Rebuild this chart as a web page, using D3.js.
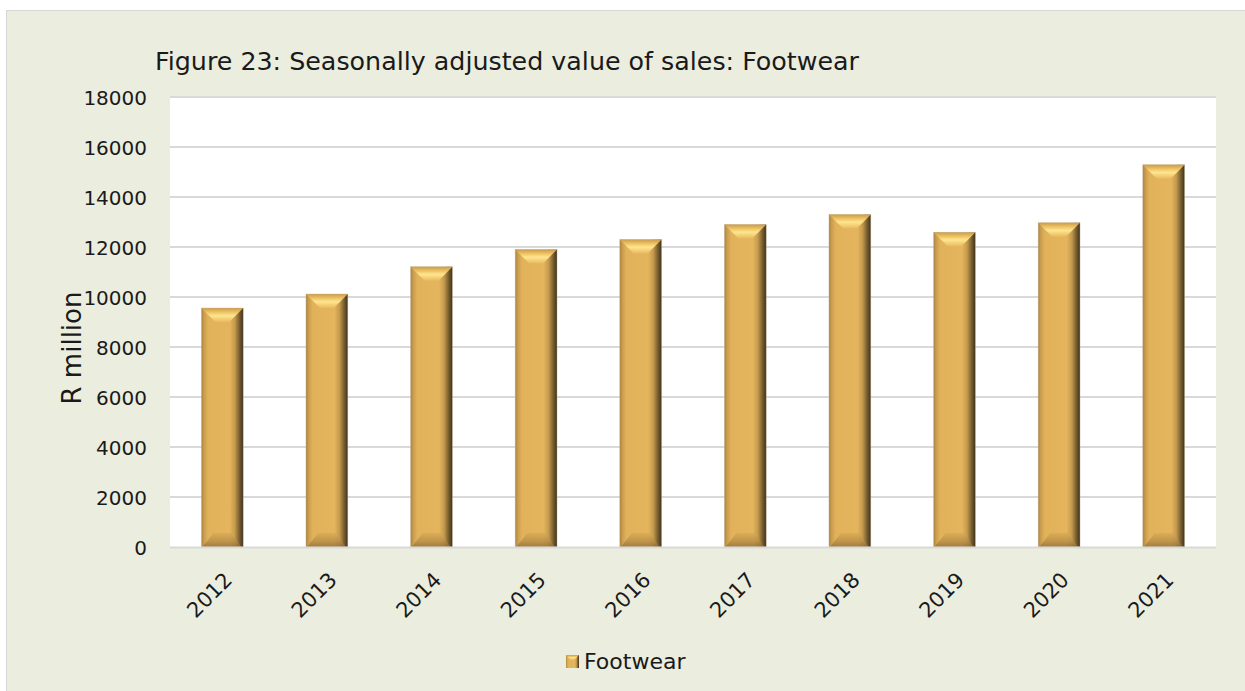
<!DOCTYPE html>
<html>
<head>
<meta charset="utf-8">
<script src="https://cdn.jsdelivr.net/npm/d3@7"></script>
<style>
  html, body { margin: 0; padding: 0; background: #ffffff; }
  svg { display: block; }
  text { font-family: "DejaVu Sans", "Noto Sans", sans-serif; fill: #1a1a1a; }
</style>
</head>
<body>
<svg id="chart" width="1245" height="691"></svg>
<script>
const categories = ["2012","2013","2014","2015","2016","2017","2018","2019","2020","2021"];
const footwear = [9560, 10120, 11210, 11900, 12300, 12900, 13300, 12590, 12970, 15290];
const yTicks = [0, 2000, 4000, 6000, 8000, 10000, 12000, 14000, 16000, 18000];
const seriesName = "Footwear";
const titleText = "Figure 23: Seasonally adjusted value of sales: Footwear";
const yLabel = "R million";

const svg = d3.select("#chart");
const W = 1245, H = 691;

// panel background
svg.append("rect")
  .attr("x", 6.5).attr("y", 10.5)
  .attr("width", W).attr("height", H)
  .attr("fill", "#EBEEDF").attr("stroke", "#D6D6D6").attr("stroke-width", 1);

const plot = { left: 170, right: 1216, top: 97, bottom: 547 };

svg.append("rect")
  .attr("x", plot.left).attr("y", plot.top)
  .attr("width", plot.right - plot.left).attr("height", plot.bottom - plot.top)
  .attr("fill", "#ffffff");

const x = d3.scaleBand().domain(categories).range([plot.left, plot.right]).paddingInner(0.6).paddingOuter(0.3);
const y = d3.scaleLinear().domain([0, 18000]).range([plot.bottom, plot.top]);

// defs gradients
const defs = svg.append("defs");
const gSide = defs.append("linearGradient").attr("id", "gSide").attr("x1", "0").attr("x2", "1").attr("y1", "0").attr("y2", "0");
[["0%", "#A9823F"], ["6%", "#C99C4E"], ["16%", "#E2B25A"], ["68%", "#E4B55C"], ["80%", "#C49A4E"], ["90%", "#7E6332"], ["100%", "#3E311C"]]
  .forEach(([o, c]) => gSide.append("stop").attr("offset", o).attr("stop-color", c));

const gTop = defs.append("linearGradient").attr("id", "gTop").attr("x1", "0").attr("x2", "0").attr("y1", "0").attr("y2", "1");
[["0%", "#C99B4E"], ["30%", "#EEC463"], ["55%", "#FFE590"], ["100%", "#E8BA5E"]]
  .forEach(([o, c]) => gTop.append("stop").attr("offset", o).attr("stop-color", c));

const gBot = defs.append("linearGradient").attr("id", "gBot").attr("x1", "0").attr("x2", "0").attr("y1", "0").attr("y2", "1");
[["0%", "#D8AA55"], ["60%", "#B48A45"], ["100%", "#8A6A34"]]
  .forEach(([o, c]) => gBot.append("stop").attr("offset", o).attr("stop-color", c));

// gridlines
svg.append("g")
  .selectAll("line").data(yTicks.filter(d => d > 0)).join("line")
  .attr("x1", plot.left).attr("x2", plot.right)
  .attr("y1", d => y(d)).attr("y2", d => y(d))
  .attr("stroke", "#D9D9D9").attr("stroke-width", 2);

// y axis labels
const yAxis = d3.axisLeft(y).tickValues(yTicks).tickSize(0).tickPadding(0).tickFormat(d3.format("d"));
const yg = svg.append("g").attr("transform", `translate(${plot.left - 23},0)`).call(yAxis);
yg.select(".domain").remove();
yg.selectAll("text").attr("font-size", 20).attr("fill", "#1a1a1a")
  .attr("font-family", "DejaVu Sans, sans-serif").attr("dy", "0.35em");

// bars
const bars = svg.append("g");
const bw = x.bandwidth();
const bev = 14;
footwear.forEach((v, i) => {
  const c = categories[i];
  const x0 = x(c), x1 = x0 + bw, yt = y(v), yb = y(0);
  const g = bars.append("g");
  g.append("rect").attr("x", x0).attr("y", yt).attr("width", bw).attr("height", yb - yt)
    .attr("fill", "url(#gSide)");
  g.append("polygon")
    .attr("points", [[x0, yt], [x1, yt], [x1 - bev, yt + bev], [x0 + bev, yt + bev]].map(p => p.join(",")).join(" "))
    .attr("fill", "url(#gTop)");
  g.append("polygon")
    .attr("points", [[x0 + 12, yb - 14], [x1 - 12, yb - 14], [x1 - 2, yb], [x0 + 1, yb]].map(p => p.join(",")).join(" "))
    .attr("fill", "url(#gBot)").attr("opacity", 0.75);
  g.append("rect").attr("x", x0).attr("y", yt).attr("width", bw).attr("height", yb - yt)
    .attr("fill", "none").attr("stroke", "#C8B89A").attr("stroke-width", 0.6).attr("opacity", 0.7);
});

// x axis line
svg.append("line").attr("x1", plot.left).attr("x2", plot.right)
  .attr("y1", plot.bottom + 0.5).attr("y2", plot.bottom + 0.5)
  .attr("stroke", "#D9D9D9").attr("stroke-width", 2);

// x tick labels rotated
const xAxis = d3.axisBottom(x).tickSize(0).tickPadding(0);
const xg = svg.append("g").attr("transform", `translate(0,${plot.bottom})`).call(xAxis);
xg.select(".domain").remove();
xg.selectAll("text")
  .attr("font-size", 21).attr("fill", "#1a1a1a")
  .attr("font-family", "DejaVu Sans, sans-serif")
  .attr("text-anchor", "end")
  .attr("dy", "0.35em")
  .attr("transform", "translate(6,29) rotate(-45)");

// title
svg.append("text").attr("x", 155).attr("y", 70)
  .attr("font-size", 24).attr("textLength", 704).attr("lengthAdjust", "spacingAndGlyphs")
  .text(titleText);

// y label
svg.append("text")
  .attr("transform", `translate(81,${(plot.top + plot.bottom) / 2 + 26}) rotate(-90)`)
  .attr("text-anchor", "middle").attr("font-size", 26)
  .text(yLabel);

// legend
const lg = svg.append("g").attr("transform", "translate(566,655)");
lg.append("rect").attr("x", 0).attr("y", 0).attr("width", 13).attr("height", 13).attr("fill", "url(#gSide)");
lg.append("polygon").attr("points", "0,0 13,0 8,5 5,5").attr("fill", "url(#gTop)");
lg.append("text").attr("x", 18).attr("y", 14).attr("font-size", 22).text(seriesName);
</script>
</body>
</html>
